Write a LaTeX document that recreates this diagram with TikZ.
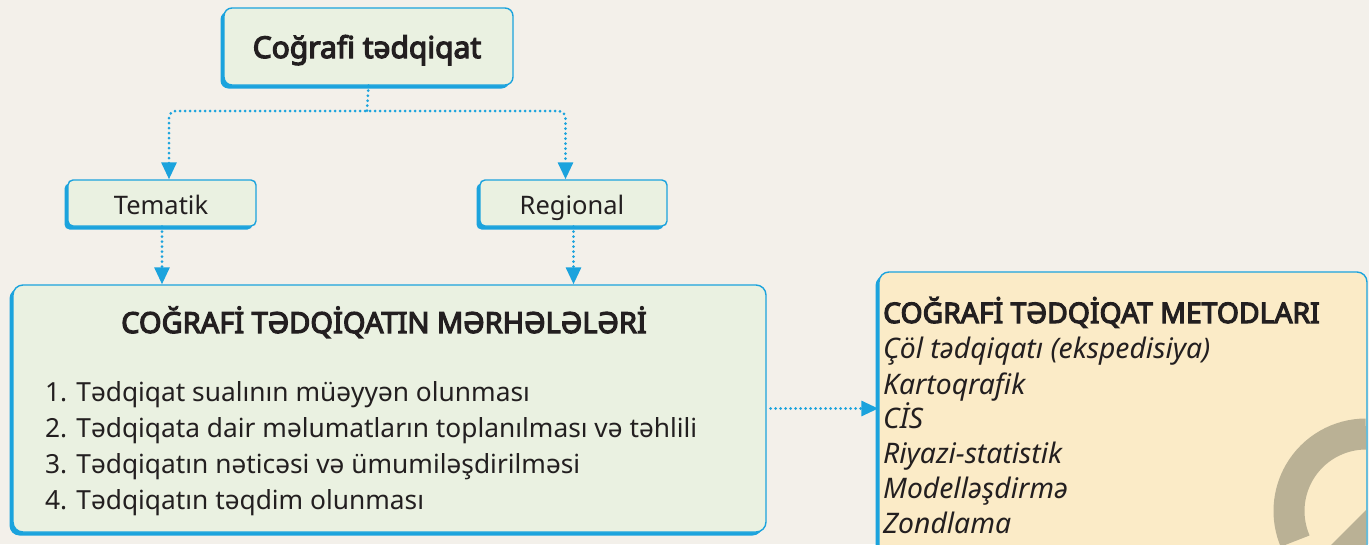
\documentclass[tikz,border=0pt]{standalone}
\usepackage{fontspec}
\setmainfont{Noto Sans}[BoldFont={Noto Sans}, BoldFeatures={FakeBold=4}]
\usetikzlibrary{arrows.meta,shadows}
\definecolor{bg}{HTML}{F3F0EA}
\definecolor{cgreen}{HTML}{EAF1E1}
\definecolor{cblue}{HTML}{1BA3DD}
\definecolor{cyel}{HTML}{FBEBC7}
\definecolor{ctext}{HTML}{231F20}
\definecolor{cgray}{HTML}{BAB195}
\begin{document}
\begin{tikzpicture}[x=1pt,y=-1pt,
  box/.style={draw=cblue, line width=1.4pt, fill=cgreen, inner sep=0pt, rounded corners=#1,
    general shadow={fill=cblue, shadow xshift=-3.5pt, shadow yshift=-3.5pt}},
  conn/.style={cblue, line width=3pt, line cap=round, dash pattern=on 0pt off 5pt},
  tip/.style={-{Triangle[width=15pt,length=17pt]}},
  txt/.style={text=ctext, inner sep=0pt},
]
\clip (0,0) rectangle (1369,544);
\useasboundingbox (0,0) rectangle (1369,544);
\fill[bg] (0,0) rectangle (1369,544);

% boxes
\node[box=8pt, minimum width=289pt, minimum height=77pt] (top) at (368.5,46.5) {};
\node[box=5pt, minimum width=188pt, minimum height=46pt] (tem) at (162,203) {};
\node[box=5pt, minimum width=187pt, minimum height=46pt] (reg) at (573.5,203) {};
\node[box=10pt, minimum width=753pt, minimum height=247pt] (big) at (389.5,408.5) {};
\node[box=10pt, fill=cyel, minimum width=488pt, minimum height=328pt] (right) at (1123,436) {};

% decoration in right box
\begin{scope}
  \clip (881,276) rectangle (1366,544);
  \draw[cgray, line width=31pt] (1366,434) arc[start angle=-90, end angle=-203, radius=77];
  \fill[cgray] (1330,546) -- (1369,507) -- (1369,546) -- cycle;
\end{scope}

% texts
\node[txt, font=\fontsize{30}{36}\selectfont\bfseries, anchor=base] (toptxt) at (367,58) {Coğrafi tədqiqat};
\node[txt, font=\fontsize{25.5}{30}\selectfont, anchor=base] (temtxt) at (161,214) {Tematik};
\node[txt, font=\fontsize{25.5}{30}\selectfont, anchor=base] (regtxt) at (572,214) {Regional};

\node[txt, font=\fontsize{29}{34}\selectfont\bfseries, anchor=base] (bigtitle) at (384,333) {COĞRAFİ TƏDQİQATIN MƏRHƏLƏLƏRİ};
\begin{scope}[every node/.style={txt, font=\fontsize{26.3}{30}\selectfont, anchor=base west}]
\node (l1) at (45,401) {1. Tədqiqat sualının müəyyən olunması};
\node (l2) at (45,437) {2. Tədqiqata dair məlumatların toplanılması və təhlili};
\node (l3) at (45,473) {3. Tədqiqatın nəticəsi və ümumiləşdirilməsi};
\node (l4) at (45,509) {4. Tədqiqatın təqdim olunması};
\end{scope}

\node[txt, font=\fontsize{28.3}{32}\selectfont\bfseries, anchor=base west] (rtitle) at (883,323) {COĞRAFİ TƏDQİQAT METODLARI};
\begin{scope}[every node/.style={txt, font=\fontsize{28.3}{32}\selectfont\itshape, anchor=base west}]
\node (m1) at (883,358) {Çöl tədqiqatı (ekspedisiya)};
\node (m2) at (883,394) {Kartoqrafik};
\node (m3) at (883,428) {CİS};
\node (m4) at (883,463) {Riyazi-statistik};
\node (m5) at (883,498) {Modelləşdirmə};
\node (m6) at (883,533) {Zondlama};
\end{scope}

% connectors
\coordinate (j) at (367,111);
\draw[conn] (top.south) -- (j);
\draw[conn, {Triangle[width=15pt,length=17pt]}-{Triangle[width=15pt,length=17pt]}, rounded corners=7pt]
  ([xshift=7pt]tem.north) |- (j) -| ([xshift=-8pt]reg.north);
\draw[conn, tip] (tem.south) -- (tem.south |- big.north);
\draw[conn, tip] (reg.south) -- (reg.south |- big.north);
\draw[conn, tip] ([xshift=4pt]big.east) -- (big.east -| right.west);
\end{tikzpicture}
\end{document}
